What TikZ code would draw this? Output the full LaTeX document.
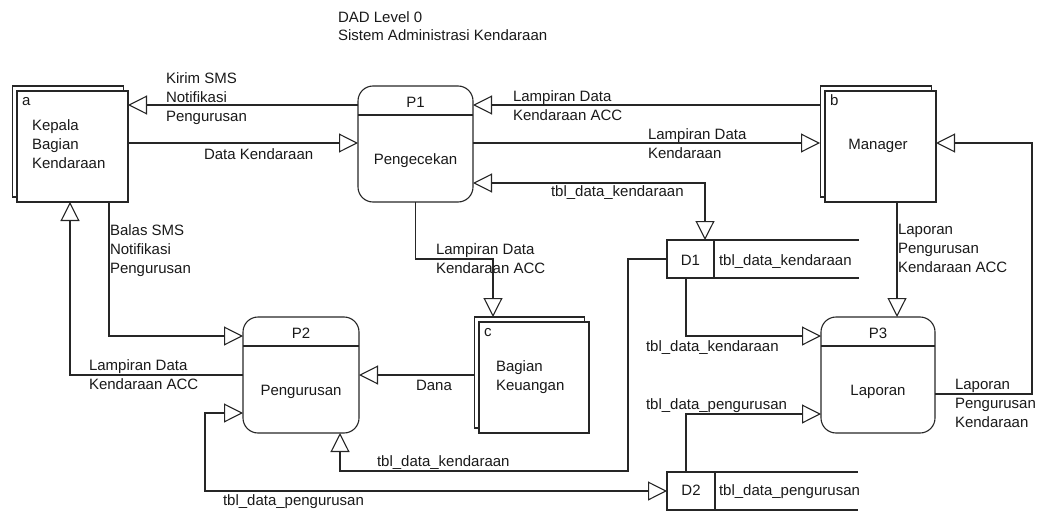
\documentclass[tikz,border=0pt]{standalone}
\usepackage{fontspec}
\setmainfont{Liberation Sans}
\usetikzlibrary{arrows.meta,shadows,calc}
\begin{document}
\begin{tikzpicture}[x=1pt,y=-1pt,
  every node/.style={inner sep=0pt, outer sep=0pt, font=\fontsize{15}{19}\selectfont, text=black!90},
  wire/.style={draw=black!85, line width=1.1pt},
  entity/.style={wire, fill=white, minimum width=111pt, minimum height=111pt,
    copy shadow={shadow xshift=-4.5pt, shadow yshift=5pt, draw=black!85, fill=white, line width=1.1pt}},
  process/.style={wire, rounded corners=15pt, minimum width=115pt, minimum height=116pt},
  store/.style={wire, minimum width=47pt, minimum height=38pt},
  tip/.tip={Triangle[open, length=19pt, width=19pt]},
  flow/.style={wire, -tip},
  flowboth/.style={wire, tip-tip},
  lbl/.style={anchor=base west},
  mlbl/.style={anchor=north west, align=left},
]
\useasboundingbox (0,0) rectangle (1039,511);

% heading
\node[mlbl, font=\fontsize{15}{18}\selectfont] (title) at (338,11.7) {DAD Level 0\\Sistem Administrasi Kendaraan};

% external entities
\node[entity] (ka) at (72.5,146.5) {};
\node[lbl] (ka-id) at (22,105) {a};
\node[mlbl] (ka-name) at (32,119.5) {Kepala\\Bagian\\Kendaraan};

\node[entity] (mgr) at (880.5,146.5) {};
\node[lbl] (mgr-id) at (830,105) {b};
\node[anchor=base] (mgr-name) at (878,149) {Manager};

\node[entity, minimum width=110pt] (kc) at (534,377.5) {};
\node[lbl] (kc-id) at (484,336) {c};
\node[mlbl] (kc-name) at (496,360.5) {Bagian\\Keuangan};

% processes
\node[process] (p1) at (415.5,144) {};
\draw[wire] ([yshift=-29pt]p1.north west) -- ([yshift=-29pt]p1.north east);
\node[anchor=base] (p1-id) at (415.5,107.5) {P1};
\node[anchor=base] (p1-name) at (415.5,164) {Pengecekan};

\node[process, minimum width=116pt] (p2) at (301,375) {};
\draw[wire] ([yshift=-29pt]p2.north west) -- ([yshift=-29pt]p2.north east);
\node[anchor=base] (p2-id) at (301,338) {P2};
\node[anchor=base] (p2-name) at (301,395) {Pengurusan};

\node[process, minimum width=114pt] (p3) at (878,375) {};
\draw[wire] ([yshift=-29pt]p3.north west) -- ([yshift=-29pt]p3.north east);
\node[anchor=base] (p3-id) at (878,338.5) {P3};
\node[anchor=base] (p3-name) at (878,395.5) {Laporan};

% data stores
\node[store] (d1) at (690.5,259) {};
\coordinate (d1-top-end) at (859,240);
\coordinate (d1-bot-end) at (859,278);
\draw[wire] (d1.north east) -- (d1-top-end);
\draw[wire] (d1.south east) -- (d1-bot-end);
\node[anchor=base] (d1-id) at (690.5,265) {D1};
\node[lbl] (d1-name) at (719,265) {tbl\_data\_kendaraan};

\node[store, minimum width=48pt] (d2) at (691,491) {};
\coordinate (d2-top-end) at (858,472);
\coordinate (d2-bot-end) at (858,510);
\draw[wire] (d2.north east) -- (d2-top-end);
\draw[wire] (d2.south east) -- (d2-bot-end);
\node[anchor=base] (d2-id) at (691,495.7) {D2};
\node[lbl] (d2-name) at (719,495.7) {tbl\_data\_pengurusan};

% data flows
\draw[flow] (p1.west |- 0,105) -- (ka.east |- 0,105);
\draw[flow] (ka.east |- 0,143) -- (p1.west |- 0,143);
\draw[flow] ($(mgr.west |- 0,105)+(-5,0)$) -- (p1.east |- 0,105);
\draw[flow] (p1.east |- 0,143) -- ($(mgr.west |- 0,143)+(-5,0)$);
\draw[flowboth] (p1.east |- 0,183) -| ($(d1.north west)+(38,0)$);
\draw[flow] (p1.south) |- (493,259) -- ($(kc.north -| 493,0)+(0,-5)$);
\draw[flow] (ka.south -| 109,0) |- (p2.west |- 0,336);
\draw[flow] (p2.west) -| (ka.south -| 70,0);
\draw[flow] ($(kc.west |- p2.east)+(-5,0)$) -- (p2.east);
\draw[flow] (d1.west) -| (628,471) -| (p2.south -| 340,0);
\draw[flowboth] (p2.west |- 0,413) -| (205,491) -- (d2.west);
\draw[flow] (d1.south -| 686,0) |- (p3.west |- 0,336);
\draw[flow] (d2.north -| 686,0) |- (p3.west |- 0,414);
\draw[flow] (mgr.south -| 897,0) -- (p3.north -| 897,0);
\draw[flow] (p3.east |- 0,394) -| (1032,143) -- (mgr.east |- 0,143);

% flow labels
\node[mlbl] (l-kirim) at (166,72.3) {Kirim SMS\\Notifikasi\\Pengurusan};
\node[lbl] (l-data) at (204,159.3) {Data Kendaraan};
\node[mlbl] (l-acc-top) at (513,90.5) {Lampiran Data\\Kendaraan ACC};
\node[mlbl] (l-lampiran) at (648,129) {Lampiran Data\\Kendaraan};
\node[lbl] (l-tbl-top) at (551,196.7) {tbl\_data\_kendaraan};
\node[mlbl] (l-acc-mid) at (436,244) {Lampiran Data\\Kendaraan ACC};
\node[mlbl] (l-balas) at (110,225) {Balas SMS\\Notifikasi\\Pengurusan};
\node[mlbl] (l-acc-left) at (89,360) {Lampiran Data\\Kendaraan ACC};
\node[lbl] (l-dana) at (416,390) {Dana};
\node[lbl] (l-tbl-p3a) at (646,351.7) {tbl\_data\_kendaraan};
\node[lbl] (l-tbl-p3b) at (646,409.3) {tbl\_data\_pengurusan};
\node[mlbl] (l-lap-acc) at (898,224.5) {Laporan\\Pengurusan\\Kendaraan ACC};
\node[mlbl] (l-lap) at (955,379) {Laporan\\Pengurusan\\Kendaraan};
\node[lbl] (l-tbl-bot) at (377,466.7) {tbl\_data\_kendaraan};
\node[lbl] (l-tbl-peng) at (223,505) {tbl\_data\_pengurusan};
\end{tikzpicture}
\end{document}
